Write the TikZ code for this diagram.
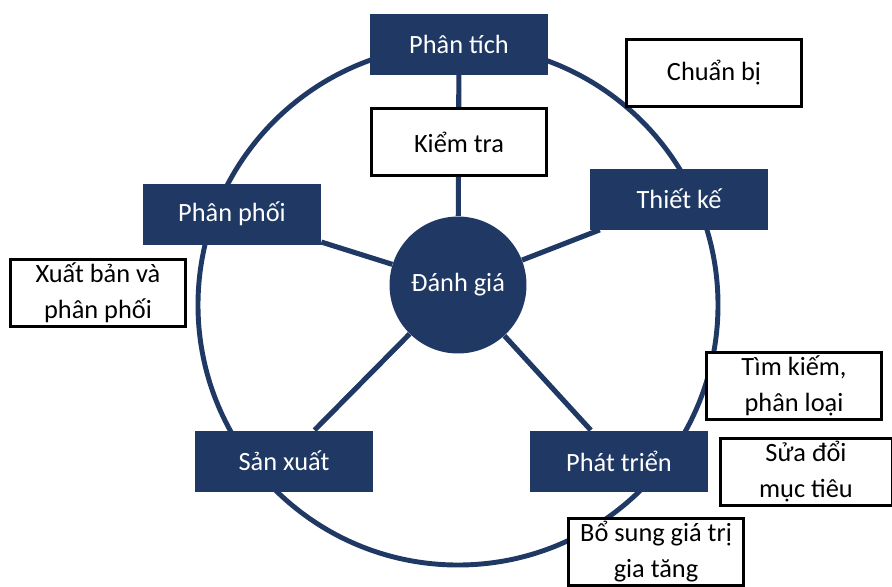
\documentclass[tikz,border=0pt]{standalone}
\usepackage{fontspec}
\setmainfont{Carlito}
\usetikzlibrary{backgrounds}
\definecolor{navy}{HTML}{203864}

\tikzset{
	stage/.style={fill=navy,text=white,minimum width=3.56cm,minimum height=1.22cm,inner sep=0pt,font=\fontsize{15}{18}\selectfont},
	task/.style={draw=black,fill=white,line width=1.7pt,minimum width=3.5cm,minimum height=1.34cm,inner sep=0pt,align=center,font=\fontsize{15}{20.5}\selectfont},
	spoke/.style={draw=navy,line width=2.9pt}
}

\begin{document}
\begin{tikzpicture}[x=0.02cm,y=-0.02cm]
	%\draw[help lines] (0,0) grid (892,586);
	\useasboundingbox (0,0) rectangle (892,586);

	\path
	coordinate (mid) at (458,285)
	coordinate (ring) at (458,305)
	;

	\node[stage] (phantich) at (459,44) {Phân tích};
	\node[stage] (thietke) at (679,199) {Thiết kế};
	\node[stage] (phanphoi) at (232,214) {Phân phối};
	\node[stage] (sanxuat) at (284,461) {Sản xuất};
	\node[stage] (phattrien) at (619,461) {Phát triển};

	\node[circle,fill=navy,text=white,minimum size=2.74cm,inner sep=0pt,font=\fontsize{15}{18}\selectfont] (danhgia) at (mid) {Đánh giá};

	\begin{scope}[on background layer]
		% outer ring
		\draw[navy,line width=2.8pt] (ring) circle (260);
		% spokes
		\draw[spoke] (danhgia) -- (phantich);
		\draw[spoke] (danhgia) -- (thietke);
		\draw[spoke] (danhgia) -- (phanphoi);
		\draw[spoke] (danhgia) -- (sanxuat);
		\draw[spoke] (danhgia) -- (phattrien);
	\end{scope}

	\node[task] (kiemtra) at (459,142) {Kiểm tra};
	\node[task] (chuanbi) at (714,73) {Chuẩn bị};
	\node[task] (xuatban) at (98,293) {Xuất bản và\\phân phối};
	\node[task] (timkiem) at (794,386) {Tìm kiếm,\\phân loại};
	\node[task,minimum width=3.44cm] (suadoi) at (806,472) {Sửa đổi\\mục tiêu};
	\node[task] (bosung) at (656,552) {Bổ sung giá trị\\gia tăng};

\end{tikzpicture}
\end{document}
